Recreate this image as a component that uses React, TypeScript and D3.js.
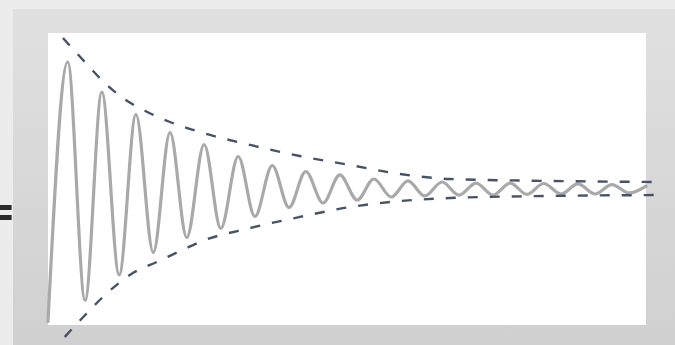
import React from 'react';
import * as d3 from 'd3';

const W = 675;
const H = 345;

// Damped response: times (s) of the start point and of each successive extremum
const responseTime = [0, 0.33, 0.62, 0.9, 1.19, 1.47, 1.76, 2.04, 2.32, 2.61, 2.89, 3.18, 3.46, 3.75, 4.03, 4.31, 4.6, 4.88, 5.17, 5.45, 5.74, 6.02, 6.3, 6.59, 6.87, 7.16, 7.44, 7.73, 8.01, 8.29, 8.58, 8.86, 9.15, 9.43, 9.72, 10.0];
// Displacement at those times
const responseValue = [-0.89, 0.84, -0.75, 0.64, -0.58, 0.49, -0.43, 0.37, -0.33, 0.29, -0.27, 0.21, -0.19, 0.15, -0.13, 0.11, -0.1, 0.087, -0.08, 0.06, -0.06, 0.047, -0.053, 0.04, -0.047, 0.033, -0.047, 0.033, -0.043, 0.03, -0.04, 0.027, -0.04, 0.023, -0.033, 0.013];

// Upper decay envelope
const upperTime = [0.25, 0.54, 0.9, 1.25, 1.66, 2.04, 2.54, 3.38, 4.21, 5.05, 5.89, 6.72, 8.39, 10.15];
const upperValue = [1.0, 0.873, 0.72, 0.6, 0.507, 0.44, 0.373, 0.287, 0.213, 0.153, 0.093, 0.06, 0.047, 0.04];

// Lower decay envelope
const lowerTime = [0.28, 0.59, 0.99, 1.42, 1.82, 2.32, 2.54, 3.38, 4.21, 5.05, 5.89, 6.72, 8.39, 10.15];
const lowerValue = [-0.993, -0.86, -0.7, -0.567, -0.493, -0.4, -0.36, -0.267, -0.193, -0.127, -0.087, -0.067, -0.053, -0.047];

const panel = { x0: 48, y0: 33, x1: 646, y1: 325 };

export default function App() {
  const x = d3.scaleLinear().domain([0, 10]).range([panel.x0, panel.x1]);
  const y = d3.scaleLinear().domain([-1, 1]).range([338, 38]);

  const line = d3
    .line<[number, number]>()
    .x((d) => x(d[0]))
    .y((d) => y(d[1]))
    .curve(d3.curveMonotoneX);

  const response = line(responseTime.map((t, i) => [t, responseValue[i]] as [number, number])) || '';
  const upper = line(upperTime.map((t, i) => [t, upperValue[i]] as [number, number])) || '';
  const lower = line(lowerTime.map((t, i) => [t, lowerValue[i]] as [number, number])) || '';

  return (
    <svg
      width={W}
      height={H}
      viewBox={`0 0 ${W} ${H}`}
      style={{ position: 'absolute', left: 0, top: 0, display: 'block' }}
    >
      <defs>
        <linearGradient id="frameFill" x1="0" y1="0" x2="0" y2="1">
          <stop offset="0" stopColor="#e0e0e0" />
          <stop offset="1" stopColor="#d0d0d0" />
        </linearGradient>
        <filter id="soft" x="-5%" y="-5%" width="110%" height="110%">
          <feGaussianBlur stdDeviation="0.8" />
        </filter>
      </defs>

      {/* page background */}
      <rect x={0} y={0} width={W} height={H} fill="#ececec" />

      {/* equals sign from the preceding expression */}
      <text
        x={16}
        y={226}
        textAnchor="end"
        fontFamily="DejaVu Sans, sans-serif"
        fontSize={42}
        fontWeight="bold"
        fill="#2a2a2a"
      >
        =
      </text>

      {/* frame */}
      <rect x={13} y={9} width={W - 13} height={H - 9} fill="url(#frameFill)" />
      <line x1={13.5} y1={10} x2={13.5} y2={H} stroke="#9c9c9c" strokeWidth={2.5} filter="url(#soft)" />
      <line x1={13} y1={9.5} x2={W} y2={9.5} stroke="#c6c6c6" strokeWidth={1.5} filter="url(#soft)" />

      {/* white plotting panel with an inset edge */}
      <rect
        x={panel.x0}
        y={panel.y0}
        width={panel.x1 - panel.x0}
        height={panel.y1 - panel.y0}
        fill="#ffffff"
      />
      <line x1={panel.x0 - 1} y1={panel.y0 - 1} x2={panel.x1 + 1} y2={panel.y0 - 1} stroke="#b2b2b2" strokeWidth={2} filter="url(#soft)" />
      <line x1={panel.x0 - 1} y1={panel.y0 - 1} x2={panel.x0 - 1} y2={panel.y1} stroke="#c2c2c2" strokeWidth={2} filter="url(#soft)" />
      <line x1={panel.x1 + 1} y1={panel.y0} x2={panel.x1 + 1} y2={panel.y1 + 1} stroke="#c4c4c4" strokeWidth={2} filter="url(#soft)" />

      {/* damped oscillation */}
      <path d={response} fill="none" stroke="#a9a9a9" strokeWidth={3.2} strokeLinejoin="round" strokeLinecap="round" />

      {/* decay envelopes */}
      <path d={upper} fill="none" stroke="#45526a" strokeWidth={2.4} strokeDasharray="10 12" />
      <path d={lower} fill="none" stroke="#45526a" strokeWidth={2.4} strokeDasharray="10 12" />
    </svg>
  );
}
